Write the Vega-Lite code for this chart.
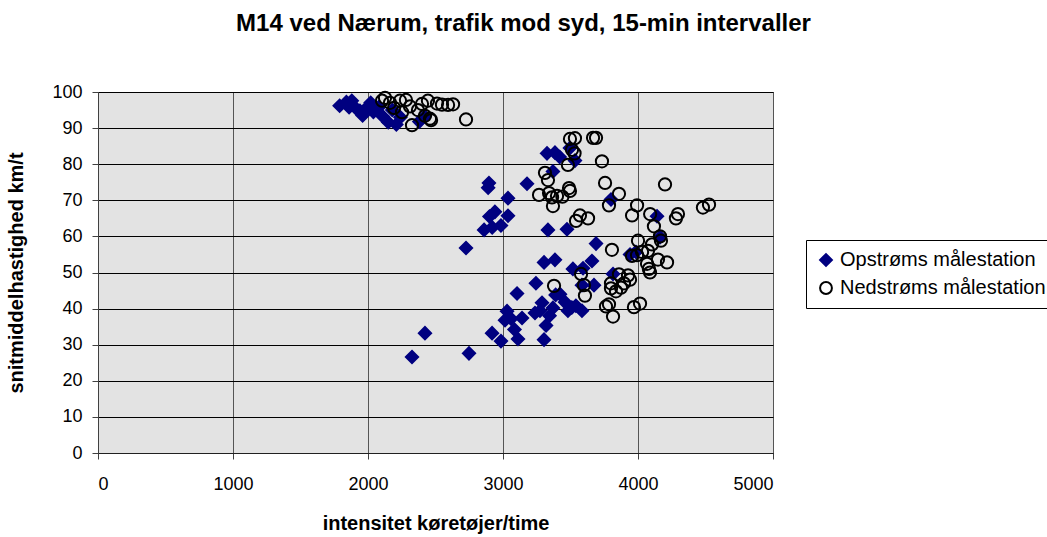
{
  "$schema": "https://vega.github.io/schema/vega-lite/v6.json",
  "width": 675,
  "height": 361,
  "autosize": {"type": "none"},
  "padding": {"left": 98, "top": 92, "right": 274, "bottom": 84},
  "background": "white",
  "config": {
    "font": "Liberation Sans",
    "view": {"fill": "#e3e3e3", "stroke": "#404040", "strokeWidth": 1}
  },
  "title": {
    "text": "M14 ved Nærum, trafik mod syd, 15-min intervaller",
    "font": "Liberation Sans",
    "fontSize": 24,
    "fontWeight": "bold",
    "color": "black",
    "anchor": "middle",
    "dx": 88,
    "offset": 47
  },
  "data": {
    "values": [
      {"s": "Opstrøms målestation", "x": 1790, "y": 96.2},
      {"s": "Opstrøms målestation", "x": 1840, "y": 97.2},
      {"s": "Opstrøms målestation", "x": 1860, "y": 95.8},
      {"s": "Opstrøms målestation", "x": 1880, "y": 97.6},
      {"s": "Opstrøms målestation", "x": 1910, "y": 95.5},
      {"s": "Opstrøms målestation", "x": 1940, "y": 94.8},
      {"s": "Opstrøms målestation", "x": 1960, "y": 93.5},
      {"s": "Opstrøms målestation", "x": 1990, "y": 95.6},
      {"s": "Opstrøms målestation", "x": 2020, "y": 97.0},
      {"s": "Opstrøms målestation", "x": 2040, "y": 94.5},
      {"s": "Opstrøms målestation", "x": 2080, "y": 95.8},
      {"s": "Opstrøms målestation", "x": 2110, "y": 93.2},
      {"s": "Opstrøms målestation", "x": 2150, "y": 91.6},
      {"s": "Opstrøms målestation", "x": 2180, "y": 95.0},
      {"s": "Opstrøms målestation", "x": 2210, "y": 91.0},
      {"s": "Opstrøms målestation", "x": 2240, "y": 93.0},
      {"s": "Opstrøms målestation", "x": 2380, "y": 91.8},
      {"s": "Opstrøms målestation", "x": 2420, "y": 93.2},
      {"s": "Opstrøms målestation", "x": 2896, "y": 74.8},
      {"s": "Opstrøms målestation", "x": 2890, "y": 73.5},
      {"s": "Opstrøms målestation", "x": 2726, "y": 56.8},
      {"s": "Opstrøms målestation", "x": 2860, "y": 61.8},
      {"s": "Opstrøms målestation", "x": 2900, "y": 65.5},
      {"s": "Opstrøms målestation", "x": 2940, "y": 66.8},
      {"s": "Opstrøms målestation", "x": 2920, "y": 62.5},
      {"s": "Opstrøms målestation", "x": 2985, "y": 63.0},
      {"s": "Opstrøms målestation", "x": 3037, "y": 70.6},
      {"s": "Opstrøms målestation", "x": 3037, "y": 65.7},
      {"s": "Opstrøms målestation", "x": 3178, "y": 74.6},
      {"s": "Opstrøms målestation", "x": 3326, "y": 83.0},
      {"s": "Opstrøms målestation", "x": 3385, "y": 83.2},
      {"s": "Opstrøms målestation", "x": 3420, "y": 82.0},
      {"s": "Opstrøms målestation", "x": 3496, "y": 84.5},
      {"s": "Opstrøms målestation", "x": 3533, "y": 81.0},
      {"s": "Opstrøms målestation", "x": 3370, "y": 78.0},
      {"s": "Opstrøms målestation", "x": 3333, "y": 61.8},
      {"s": "Opstrøms målestation", "x": 3474, "y": 62.0},
      {"s": "Opstrøms målestation", "x": 3385, "y": 53.5},
      {"s": "Opstrøms målestation", "x": 3304, "y": 52.8},
      {"s": "Opstrøms målestation", "x": 3518, "y": 51.0},
      {"s": "Opstrøms målestation", "x": 3593, "y": 51.2},
      {"s": "Opstrøms målestation", "x": 3659, "y": 53.2},
      {"s": "Opstrøms målestation", "x": 3689, "y": 58.0},
      {"s": "Opstrøms målestation", "x": 3585, "y": 46.5},
      {"s": "Opstrøms målestation", "x": 3674, "y": 46.5},
      {"s": "Opstrøms målestation", "x": 3800, "y": 70.2},
      {"s": "Opstrøms målestation", "x": 3815, "y": 49.6},
      {"s": "Opstrøms målestation", "x": 3941, "y": 55.0},
      {"s": "Opstrøms målestation", "x": 3985, "y": 55.7},
      {"s": "Opstrøms målestation", "x": 4141, "y": 65.6},
      {"s": "Opstrøms målestation", "x": 4163, "y": 59.8},
      {"s": "Opstrøms målestation", "x": 2326, "y": 26.6},
      {"s": "Opstrøms målestation", "x": 2422, "y": 33.2},
      {"s": "Opstrøms målestation", "x": 2748, "y": 27.6},
      {"s": "Opstrøms målestation", "x": 2919, "y": 33.2},
      {"s": "Opstrøms målestation", "x": 2985, "y": 31.0},
      {"s": "Opstrøms målestation", "x": 3015, "y": 36.8},
      {"s": "Opstrøms målestation", "x": 3030, "y": 39.3},
      {"s": "Opstrøms målestation", "x": 3060, "y": 37.2},
      {"s": "Opstrøms målestation", "x": 3085, "y": 34.2},
      {"s": "Opstrøms målestation", "x": 3104, "y": 44.2},
      {"s": "Opstrøms målestation", "x": 3111, "y": 31.6},
      {"s": "Opstrøms målestation", "x": 3141, "y": 37.4},
      {"s": "Opstrøms målestation", "x": 3237, "y": 38.8},
      {"s": "Opstrøms målestation", "x": 3274, "y": 39.4},
      {"s": "Opstrøms målestation", "x": 3244, "y": 47.0},
      {"s": "Opstrøms målestation", "x": 3289, "y": 41.6},
      {"s": "Opstrøms målestation", "x": 3304, "y": 31.4},
      {"s": "Opstrøms målestation", "x": 3319, "y": 35.3},
      {"s": "Opstrøms målestation", "x": 3345, "y": 38.0},
      {"s": "Opstrøms målestation", "x": 3370, "y": 40.2},
      {"s": "Opstrøms målestation", "x": 3390, "y": 43.8},
      {"s": "Opstrøms målestation", "x": 3422, "y": 44.0},
      {"s": "Opstrøms målestation", "x": 3459, "y": 41.8},
      {"s": "Opstrøms målestation", "x": 3481, "y": 39.4},
      {"s": "Opstrøms målestation", "x": 3510, "y": 40.3},
      {"s": "Opstrøms målestation", "x": 3540, "y": 40.8},
      {"s": "Opstrøms målestation", "x": 3585, "y": 39.4},
      {"s": "Nedstrøms målestation", "x": 2104, "y": 97.6},
      {"s": "Nedstrøms målestation", "x": 2126, "y": 98.4},
      {"s": "Nedstrøms målestation", "x": 2163, "y": 97.0},
      {"s": "Nedstrøms målestation", "x": 2193, "y": 95.6},
      {"s": "Nedstrøms målestation", "x": 2237, "y": 97.6},
      {"s": "Nedstrøms målestation", "x": 2281, "y": 97.8},
      {"s": "Nedstrøms målestation", "x": 2311, "y": 96.0},
      {"s": "Nedstrøms målestation", "x": 2370, "y": 95.0},
      {"s": "Nedstrøms målestation", "x": 2400, "y": 96.7},
      {"s": "Nedstrøms målestation", "x": 2444, "y": 97.6},
      {"s": "Nedstrøms målestation", "x": 2459, "y": 92.6},
      {"s": "Nedstrøms målestation", "x": 2511, "y": 96.8},
      {"s": "Nedstrøms målestation", "x": 2548, "y": 96.5},
      {"s": "Nedstrøms målestation", "x": 2593, "y": 96.4},
      {"s": "Nedstrøms målestation", "x": 2630, "y": 96.6},
      {"s": "Nedstrøms målestation", "x": 2726, "y": 92.4},
      {"s": "Nedstrøms målestation", "x": 2326, "y": 90.8},
      {"s": "Nedstrøms målestation", "x": 2252, "y": 94.4},
      {"s": "Nedstrøms målestation", "x": 2422, "y": 93.4},
      {"s": "Nedstrøms målestation", "x": 2467, "y": 92.2},
      {"s": "Nedstrøms målestation", "x": 3496, "y": 87.0},
      {"s": "Nedstrøms målestation", "x": 3533, "y": 87.2},
      {"s": "Nedstrøms målestation", "x": 3667, "y": 87.3},
      {"s": "Nedstrøms målestation", "x": 3689, "y": 87.3},
      {"s": "Nedstrøms målestation", "x": 3511, "y": 84.0},
      {"s": "Nedstrøms målestation", "x": 3530, "y": 83.0},
      {"s": "Nedstrøms målestation", "x": 3733, "y": 80.8},
      {"s": "Nedstrøms målestation", "x": 3481, "y": 79.8},
      {"s": "Nedstrøms målestation", "x": 3311, "y": 77.6},
      {"s": "Nedstrøms målestation", "x": 3333, "y": 75.6},
      {"s": "Nedstrøms målestation", "x": 3756, "y": 74.8},
      {"s": "Nedstrøms målestation", "x": 4200, "y": 74.4},
      {"s": "Nedstrøms målestation", "x": 3489, "y": 73.4},
      {"s": "Nedstrøms målestation", "x": 3496, "y": 72.6},
      {"s": "Nedstrøms målestation", "x": 3341, "y": 72.0},
      {"s": "Nedstrøms målestation", "x": 3267, "y": 71.5},
      {"s": "Nedstrøms målestation", "x": 3363, "y": 70.8},
      {"s": "Nedstrøms målestation", "x": 3400, "y": 71.2},
      {"s": "Nedstrøms målestation", "x": 3440, "y": 71.0},
      {"s": "Nedstrøms målestation", "x": 3370, "y": 68.4},
      {"s": "Nedstrøms målestation", "x": 3859, "y": 71.8},
      {"s": "Nedstrøms målestation", "x": 3785, "y": 68.6},
      {"s": "Nedstrøms målestation", "x": 3993, "y": 68.6},
      {"s": "Nedstrøms målestation", "x": 4481, "y": 68.0},
      {"s": "Nedstrøms målestation", "x": 4526, "y": 68.8},
      {"s": "Nedstrøms målestation", "x": 4281, "y": 65.0},
      {"s": "Nedstrøms målestation", "x": 4296, "y": 66.2},
      {"s": "Nedstrøms målestation", "x": 3570, "y": 65.8},
      {"s": "Nedstrøms målestation", "x": 3630, "y": 65.0},
      {"s": "Nedstrøms målestation", "x": 3541, "y": 64.3},
      {"s": "Nedstrøms målestation", "x": 3956, "y": 65.8},
      {"s": "Nedstrøms målestation", "x": 4090, "y": 66.2},
      {"s": "Nedstrøms målestation", "x": 4118, "y": 62.8},
      {"s": "Nedstrøms målestation", "x": 4000, "y": 58.8},
      {"s": "Nedstrøms målestation", "x": 4163, "y": 60.0},
      {"s": "Nedstrøms målestation", "x": 4170, "y": 58.8},
      {"s": "Nedstrøms målestation", "x": 3807, "y": 56.3},
      {"s": "Nedstrøms målestation", "x": 4104, "y": 57.8},
      {"s": "Nedstrøms målestation", "x": 4074, "y": 56.0},
      {"s": "Nedstrøms målestation", "x": 3956, "y": 54.6},
      {"s": "Nedstrøms målestation", "x": 3993, "y": 54.8},
      {"s": "Nedstrøms målestation", "x": 4030, "y": 55.7},
      {"s": "Nedstrøms målestation", "x": 4215, "y": 52.8},
      {"s": "Nedstrøms målestation", "x": 4148, "y": 53.6},
      {"s": "Nedstrøms målestation", "x": 4067, "y": 52.4},
      {"s": "Nedstrøms målestation", "x": 4081, "y": 51.0},
      {"s": "Nedstrøms målestation", "x": 4089, "y": 50.0},
      {"s": "Nedstrøms målestation", "x": 3578, "y": 49.6},
      {"s": "Nedstrøms målestation", "x": 3600, "y": 46.5},
      {"s": "Nedstrøms målestation", "x": 3800, "y": 47.0},
      {"s": "Nedstrøms målestation", "x": 3859, "y": 49.5},
      {"s": "Nedstrøms målestation", "x": 3896, "y": 47.0},
      {"s": "Nedstrøms målestation", "x": 3926, "y": 49.2},
      {"s": "Nedstrøms målestation", "x": 3941, "y": 48.0},
      {"s": "Nedstrøms målestation", "x": 3800, "y": 45.6},
      {"s": "Nedstrøms målestation", "x": 3837, "y": 44.8},
      {"s": "Nedstrøms målestation", "x": 3874, "y": 45.8},
      {"s": "Nedstrøms målestation", "x": 3378, "y": 46.3},
      {"s": "Nedstrøms målestation", "x": 3763, "y": 40.6},
      {"s": "Nedstrøms målestation", "x": 3785, "y": 41.2},
      {"s": "Nedstrøms målestation", "x": 3815, "y": 37.8},
      {"s": "Nedstrøms målestation", "x": 3970, "y": 40.4},
      {"s": "Nedstrøms målestation", "x": 4015, "y": 41.4},
      {"s": "Nedstrøms målestation", "x": 3607, "y": 43.6}
    ]
  },
  "mark": {"type": "point", "filled": false, "opacity": 1, "strokeWidth": 2, "size": 150},
  "encoding": {
    "x": {
      "field": "x", "type": "quantitative",
      "scale": {"domain": [0, 5000], "nice": false, "zero": true},
      "axis": {
        "title": "intensitet køretøjer/time",
        "values": [0, 1000, 2000, 3000, 4000, 5000],
        "format": "d",
        "labelFontSize": 18, "labelColor": "black", "labelFont": "Liberation Sans",
        "titleFontSize": 20, "titleFont": "Liberation Sans", "titleFontWeight": "bold", "titleColor": "black",
        "titlePadding": 20,
        "labelPadding": 16,
        "tickSize": 6, "tickColor": "#404040",
        "domainColor": "#202020",
        "grid": true, "gridColor": "#555555", "gridWidth": 1, "gridOpacity": 1
      }
    },
    "y": {
      "field": "y", "type": "quantitative",
      "scale": {"domain": [0, 100], "nice": false},
      "axis": {
        "title": "snitmiddelhastighed km/t",
        "values": [0, 10, 20, 30, 40, 50, 60, 70, 80, 90, 100],
        "format": "d",
        "labelFontSize": 18, "labelColor": "black", "labelFont": "Liberation Sans",
        "titleFontSize": 20, "titleFont": "Liberation Sans", "titleFontWeight": "bold", "titleColor": "black",
        "titlePadding": 25,
        "labelPadding": 10,
        "tickSize": 6, "tickColor": "#404040",
        "domainColor": "#404040",
        "grid": true, "gridColor": "#000000", "gridWidth": 1, "gridOpacity": 1
      }
    },
    "shape": {
      "field": "s", "type": "nominal",
      "scale": {"domain": ["Opstrøms målestation", "Nedstrøms målestation"], "range": ["diamond", "circle"]},
      "title": null,
      "legend": {
        "orient": "none",
        "legendX": 708,
        "legendY": 148,
        "strokeColor": "black",
        "fillColor": "white",
        "padding": 10,
        "labelFontSize": 20,
        "labelFont": "Liberation Sans",
        "labelColor": "black",
        "labelOffset": 4,
        "rowPadding": 8,
        "symbolSize": 140,
        "symbolStrokeWidth": 2,
        "labelLimit": 400
      }
    },
    "fill": {
      "field": "s", "type": "nominal",
      "scale": {"domain": ["Opstrøms målestation", "Nedstrøms målestation"], "range": ["#000080", "transparent"]},
      "title": null
    },
    "stroke": {
      "field": "s", "type": "nominal",
      "scale": {"domain": ["Opstrøms målestation", "Nedstrøms målestation"], "range": ["#000080", "#000000"]},
      "title": null
    },
    "order": {"field": "s", "sort": "descending"}
  }
}
